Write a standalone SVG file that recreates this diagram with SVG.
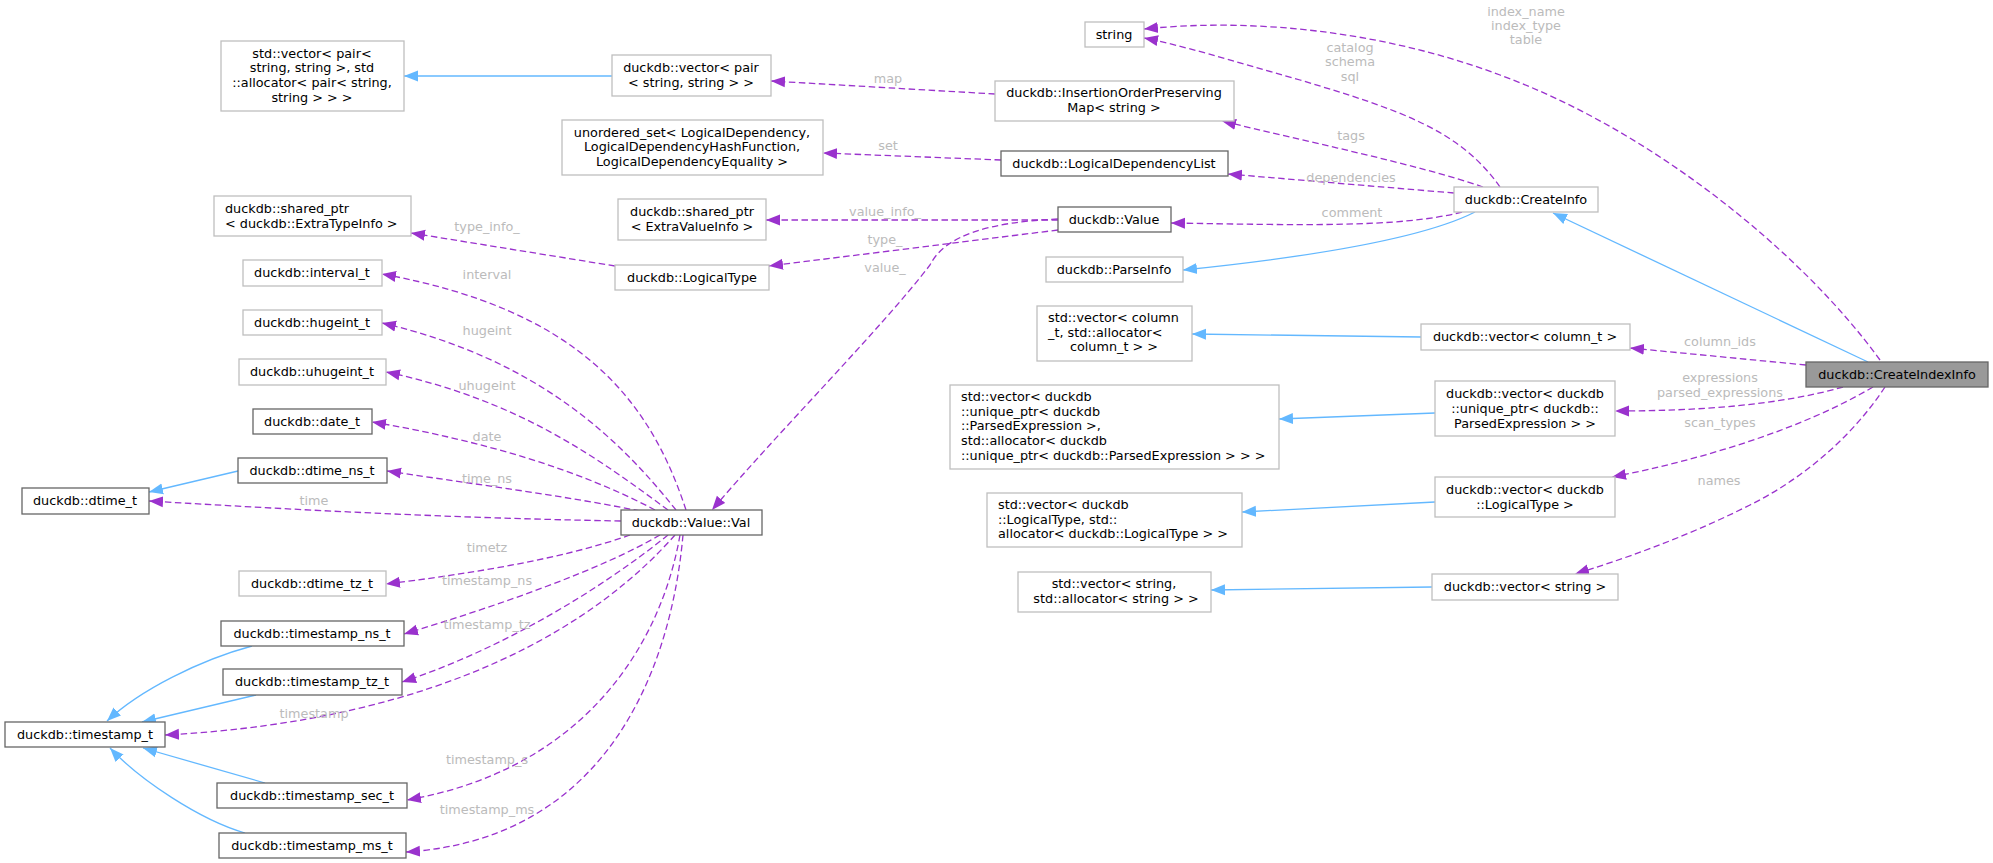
<svg xmlns="http://www.w3.org/2000/svg" width="1993" height="863" viewBox="0 0 1993 863">
<style>
text{font-family:"DejaVu Sans",sans-serif;font-size:12.8px;fill:#000}
.n rect{fill:#fff;stroke:#bfbfbf;stroke-width:1.3}
.d rect{stroke:#666}
.m{text-anchor:middle}
.l{fill:#bbbbbb;text-anchor:middle}
.p{fill:none;stroke:#9a32cd;stroke-width:1.3;stroke-dasharray:6.5,3.5;marker-end:url(#ap)}
.b{fill:none;stroke:#63b8ff;stroke-width:1.3;marker-end:url(#ab)}
</style>
<defs>
<marker id="ap" markerUnits="userSpaceOnUse" markerWidth="16" markerHeight="12" refX="14" refY="6" orient="auto"><path d="M0,0.5L14,6L0,11.5z" fill="#9a32cd"/></marker>
<marker id="ab" markerUnits="userSpaceOnUse" markerWidth="16" markerHeight="12" refX="14" refY="6" orient="auto"><path d="M0,0.5L14,6L0,11.5z" fill="#63b8ff"/></marker>
</defs>
<rect width="1993" height="863" fill="#fff"/>
<g id="edges">
<path class="b" d="M612,76L404,76"/>
<path class="b" d="M1421,337L1192,334"/>
<path class="b" d="M1435,413L1279,419"/>
<path class="b" d="M1435,502L1242,512"/>
<path class="b" d="M1432,587L1211,590"/>
<path class="b" d="M1868,362L1553,213"/>
<path class="b" d="M1475,212C1420,240 1300,258 1183,270"/>
<path class="b" d="M238,471L149,492"/>
<path class="b" d="M252,646C200,660 140,690 107,721"/>
<path class="b" d="M256,695L142,722"/>
<path class="b" d="M265,783L143,748"/>
<path class="b" d="M245,833C200,820 140,780 110,748"/>
<path class="p" d="M995,94L771,81"/>
<path class="p" d="M1001,160L823,153"/>
<path class="p" d="M615,266L411,233"/>
<path class="p" d="M1058,220L766,220"/>
<path class="p" d="M1058,230L769,266"/>
<path class="p" d="M1058,219C990,222 945,235 930,265C880,330 780,430 712,510"/>
<path class="p" d="M1500,187C1460,130 1400,110 1300,80C1230,60 1180,45 1144,38"/>
<path class="p" d="M1483,187C1420,165 1300,140 1222,121"/>
<path class="p" d="M1454,193L1228,174"/>
<path class="p" d="M1462,212C1400,228 1300,225 1171,223"/>
<path class="p" d="M1880,360C1800,250 1650,130 1500,75C1380,30 1250,18 1144,29"/>
<path class="p" d="M1806,365L1630,348"/>
<path class="p" d="M1843,387C1780,405 1700,411 1615,411"/>
<path class="p" d="M1873,387C1800,430 1700,460 1612,477"/>
<path class="p" d="M1885,387C1850,440 1800,480 1750,505C1680,540 1620,560 1575,574"/>
<path class="p" d="M686,510C650,400 580,310 382,274"/>
<path class="p" d="M676,510C620,440 540,360 382,323"/>
<path class="p" d="M668,510C600,460 520,400 386,372"/>
<path class="p" d="M655,510C580,470 480,440 372,422"/>
<path class="p" d="M640,511C560,495 480,485 387,471"/>
<path class="p" d="M621,521C450,518 300,510 149,501"/>
<path class="p" d="M630,535C560,560 460,575 386,584"/>
<path class="p" d="M660,535C600,570 500,605 404,634"/>
<path class="p" d="M668,535C600,590 500,650 402,682"/>
<path class="p" d="M675,535C600,620 450,720 165,735"/>
<path class="p" d="M680,535C660,650 580,770 407,800"/>
<path class="p" d="M683,535C670,680 600,840 406,852"/>
<text class="l" x="888" y="83">map</text>
<text class="l" x="888" y="150">set</text>
<text class="l" x="885" y="216">value_info_</text>
<text class="l" x="885" y="244">type_</text>
<text class="l" x="885" y="272">value_</text>
<text class="l" x="487" y="231">type_info_</text>
<text class="l" x="487" y="279">interval</text>
<text class="l" x="487" y="335">hugeint</text>
<text class="l" x="487" y="390">uhugeint</text>
<text class="l" x="487" y="441">date</text>
<text class="l" x="487" y="483">time_ns</text>
<text class="l" x="314" y="505">time</text>
<text class="l" x="487" y="552">timetz</text>
<text class="l" x="487" y="585">timestamp_ns</text>
<text class="l" x="487" y="629">timestamp_tz</text>
<text class="l" x="314" y="718">timestamp</text>
<text class="l" x="487" y="764">timestamp_s</text>
<text class="l" x="487" y="814">timestamp_ms</text>
<text class="l" x="1351" y="140">tags</text>
<text class="l" x="1351" y="182">dependencies</text>
<text class="l" x="1352" y="217">comment</text>
<text class="l" x="1350" y="52">catalog</text><text class="l" x="1350" y="66">schema</text><text class="l" x="1350" y="81">sql</text>
<text class="l" x="1526" y="16">index_name</text><text class="l" x="1526" y="30">index_type</text><text class="l" x="1526" y="44">table</text>
<text class="l" x="1720" y="346">column_ids</text>
<text class="l" x="1720" y="382">expressions</text><text class="l" x="1720" y="397">parsed_expressions</text>
<text class="l" x="1720" y="427">scan_types</text>
<text class="l" x="1719" y="485">names</text>
</g>
<g id="n_stdvecpair" class="n"><rect x="221" y="41" width="183" height="70"/><text class="m" x="312" y="58">std::vector&lt; pair&lt;</text><text class="m" x="312" y="72">string, string &gt;, std</text><text class="m" x="312" y="87">::allocator&lt; pair&lt; string,</text><text class="m" x="312" y="102">string &gt; &gt; &gt;</text></g>
<g id="n_vecpair" class="n"><rect x="612" y="55" width="159" height="41"/><text class="m" x="691" y="72">duckdb::vector&lt; pair</text><text class="m" x="691" y="87">&lt; string, string &gt; &gt;</text></g>
<g id="n_string" class="n"><rect x="1085" y="22" width="59" height="25"/><text class="m" x="1114" y="39">string</text></g>
<g id="n_iopm" class="n"><rect x="995" y="81" width="239" height="40"/><text class="m" x="1114" y="97">duckdb::InsertionOrderPreserving</text><text class="m" x="1114" y="112">Map&lt; string &gt;</text></g>
<g id="n_uset" class="n"><rect x="562" y="120" width="261" height="55"/><text class="m" x="692" y="137">unordered_set&lt; LogicalDependency,</text><text class="m" x="692" y="151">LogicalDependencyHashFunction,</text><text class="m" x="692" y="166">LogicalDependencyEquality &gt;</text></g>
<g id="n_ldl" class="n d"><rect x="1001" y="151" width="227" height="25"/><text class="m" x="1114" y="168">duckdb::LogicalDependencyList</text></g>
<g id="n_spvalue" class="n"><rect x="618" y="199" width="148" height="41"/><text class="m" x="692" y="216">duckdb::shared_ptr</text><text class="m" x="692" y="231">&lt; ExtraValueInfo &gt;</text></g>
<g id="n_value" class="n d"><rect x="1058" y="207" width="113" height="25"/><text class="m" x="1114" y="224">duckdb::Value</text></g>
<g id="n_createinfo" class="n"><rect x="1454" y="187" width="144" height="25"/><text class="m" x="1526" y="204">duckdb::CreateInfo</text></g>
<g id="n_sptype" class="n"><rect x="214" y="196" width="197" height="40"/><text x="225" y="213">duckdb::shared_ptr</text><text x="225" y="228">&lt; duckdb::ExtraTypeInfo &gt;</text></g>
<g id="n_logicaltype" class="n"><rect x="615" y="265" width="154" height="25"/><text class="m" x="692" y="282">duckdb::LogicalType</text></g>
<g id="n_parseinfo" class="n"><rect x="1046" y="257" width="137" height="25"/><text class="m" x="1114" y="274">duckdb::ParseInfo</text></g>
<g id="n_interval" class="n"><rect x="243" y="260" width="139" height="26"/><text class="m" x="312" y="277">duckdb::interval_t</text></g>
<g id="n_hugeint" class="n"><rect x="243" y="310" width="139" height="25"/><text class="m" x="312" y="327">duckdb::hugeint_t</text></g>
<g id="n_uhugeint" class="n"><rect x="239" y="359" width="147" height="26"/><text class="m" x="312" y="376">duckdb::uhugeint_t</text></g>
<g id="n_date" class="n d"><rect x="253" y="409" width="119" height="25"/><text class="m" x="312" y="426">duckdb::date_t</text></g>
<g id="n_dtimens" class="n d"><rect x="238" y="458" width="149" height="25"/><text class="m" x="312" y="475">duckdb::dtime_ns_t</text></g>
<g id="n_dtime" class="n d"><rect x="22" y="488" width="127" height="26"/><text class="m" x="85" y="505">duckdb::dtime_t</text></g>
<g id="n_val" class="n d"><rect x="621" y="510" width="141" height="25"/><text class="m" x="691" y="527">duckdb::Value::Val</text></g>
<g id="n_dtimetz" class="n"><rect x="239" y="571" width="147" height="25"/><text class="m" x="312" y="588">duckdb::dtime_tz_t</text></g>
<g id="n_tsns" class="n d"><rect x="221" y="621" width="183" height="25"/><text class="m" x="312" y="638">duckdb::timestamp_ns_t</text></g>
<g id="n_tstz" class="n d"><rect x="223" y="669" width="179" height="26"/><text class="m" x="312" y="686">duckdb::timestamp_tz_t</text></g>
<g id="n_ts" class="n d"><rect x="5" y="722" width="160" height="25"/><text class="m" x="85" y="739">duckdb::timestamp_t</text></g>
<g id="n_tssec" class="n d"><rect x="217" y="783" width="190" height="25"/><text class="m" x="312" y="800">duckdb::timestamp_sec_t</text></g>
<g id="n_tsms" class="n d"><rect x="219" y="833" width="187" height="25"/><text class="m" x="312" y="850">duckdb::timestamp_ms_t</text></g>
<g id="n_stdveccol" class="n"><rect x="1037" y="306" width="155" height="55"/><text x="1048" y="322">std::vector&lt; column</text><text x="1048" y="337">_t, std::allocator&lt;</text><text class="m" x="1114" y="351">column_t &gt; &gt;</text></g>
<g id="n_veccol" class="n"><rect x="1421" y="324" width="209" height="26"/><text class="m" x="1525" y="341">duckdb::vector&lt; column_t &gt;</text></g>
<g id="n_stdvecuptr" class="n"><rect x="950" y="385" width="329" height="84"/><text x="961" y="401">std::vector&lt; duckdb</text><text x="961" y="416">::unique_ptr&lt; duckdb</text><text x="961" y="430">::ParsedExpression &gt;,</text><text x="961" y="445"> std::allocator&lt; duckdb</text><text x="961" y="460">::unique_ptr&lt; duckdb::ParsedExpression &gt; &gt; &gt;</text></g>
<g id="n_vecuptr" class="n"><rect x="1435" y="381" width="180" height="55"/><text class="m" x="1525" y="398">duckdb::vector&lt; duckdb</text><text class="m" x="1525" y="413">::unique_ptr&lt; duckdb::</text><text class="m" x="1525" y="428">ParsedExpression &gt; &gt;</text></g>
<g id="n_stdveclt" class="n"><rect x="987" y="493" width="255" height="54"/><text x="998" y="509">std::vector&lt; duckdb</text><text x="998" y="524">::LogicalType, std::</text><text x="998" y="538">allocator&lt; duckdb::LogicalType &gt; &gt;</text></g>
<g id="n_veclt" class="n"><rect x="1435" y="477" width="180" height="40"/><text class="m" x="1525" y="494">duckdb::vector&lt; duckdb</text><text class="m" x="1525" y="509">::LogicalType &gt;</text></g>
<g id="n_stdvecstr" class="n"><rect x="1018" y="572" width="193" height="40"/><text class="m" x="1114" y="588">std::vector&lt; string,</text><text class="m" x="1116" y="603">std::allocator&lt; string &gt; &gt;</text></g>
<g id="n_vecstr" class="n"><rect x="1432" y="574" width="186" height="26"/><text class="m" x="1525" y="591">duckdb::vector&lt; string &gt;</text></g>
<g id="n_createindexinfo" class="n"><rect x="1806" y="362" width="182" height="25" style="fill:#999;stroke:#666"/><text class="m" x="1897" y="379">duckdb::CreateIndexInfo</text></g>
</svg>
